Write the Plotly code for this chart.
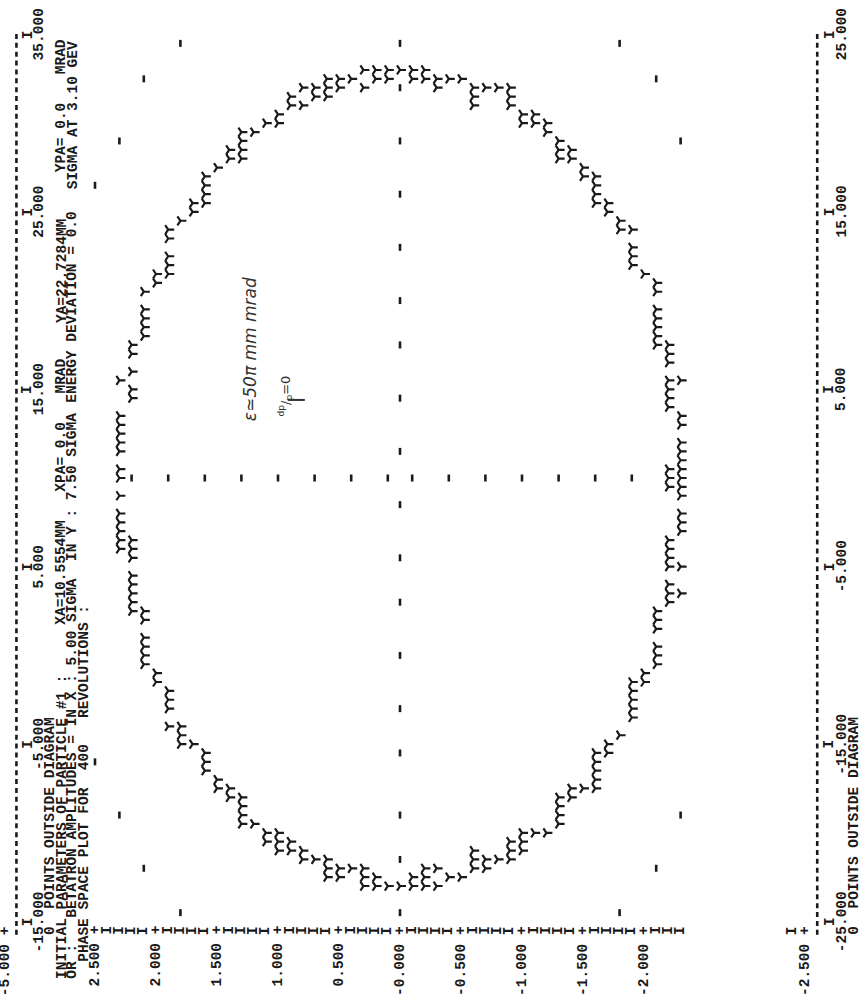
import plotly.graph_objects as go

# ---------------- data read from the print-out ----------------
# Print lines of the phase-space plot (YP, mrad) and, for each line, the Y positions (mm)
LINE_YP = [2.3, 2.2, 2.1, 2.0, 1.9, 1.8, 1.7, 1.6, 1.5, 1.4, 1.3, 1.2, 1.1, 1.0,
           0.9, 0.8, 0.7, 0.6, 0.5, 0.4, 0.3, 0.2, 0.1, 0.0,
           -0.1, -0.2, -0.3, -0.4, -0.5, -0.6, -0.7, -0.8, -0.9, -1.0,
           -1.1, -1.2, -1.3, -1.4, -1.5, -1.6, -1.7, -1.8, -1.9, -2.0,
           -2.1, -2.2, -2.3]
LINE_Y = [
    [-4.0, -3.5, -3.0, -2.5, -2.0, -1.0, 0.0, 0.5, 1.5, 2.0, 2.5, 3.0, 3.5, 5.5],
    [-7.5, -7.0, -6.5, -6.0, -5.5, -4.5, -4.0, -3.5, 4.5, 5.0, 6.0, 7.0, 7.5],
    [-10.5, -10.0, -9.5, -9.0, -8.0, -7.5, 8.0, 8.5, 9.0, 9.5, 10.5],
    [-11.5, -11.0, 11.0, 11.5],
    [-14.0, -13.0, -12.5, -12.0, 11.5, 12.0, 12.5, 13.5, 14.0],
    [-15.0, -14.5, -14.0, 14.5],
    [-15.0, 15.0, 15.5],
    [-16.5, -16.0, -15.5, 15.5, 16.0, 16.5, 17.0],
    [-17.5, -17.0, 17.5],
    [-18.0, -17.5, 18.0, 18.5],
    [-19.5, -19.0, -18.5, -18.0, 18.0, 18.5, 19.0, 19.5],
    [-19.5, 19.5],
    [-20.5, -20.0, 20.0],
    [-21.0, -20.5, -20.0, 20.0, 20.5],
    [-21.0, -20.5, 21.0, 21.5],
    [-21.5, -21.0, 21.0, 22.0],
    [-21.5, 21.5, 22.0],
    [-22.5, -22.0, -21.5, 21.5, 22.0, 22.5],
    [-22.5, -22.0, 22.0, 22.5],
    [-22.0, 22.5],
    [-23.0, -22.5, -22.0, 22.0, 23.0],
    [-23.0, -22.5, 22.5, 23.0],
    [-23.0, 22.5, 23.0],
    [-23.0, 23.0],
    [-23.0, -22.5, 22.5, 23.0],
    [-23.0, -22.5, -22.0, 22.5, 23.0],
    [-23.0, -22.0, 22.0, 22.5],
    [-22.5, 22.5],
    [-22.5, 22.5],
    [-22.0, -21.5, -21.0, 21.0, 21.5, 22.0],
    [-22.0, -21.5, 22.0],
    [-21.5, 22.0],
    [-21.5, -21.0, -20.5, 21.0, 21.5, 22.0],
    [-21.0, -20.5, -20.0, 20.0, 20.5],
    [-20.0, 20.0, 20.5],
    [-20.0, 19.5, 20.0],
    [-19.5, -19.0, -18.5, -18.0, 18.0, 18.5, 19.0],
    [-18.0, -17.5, 18.0, 18.5],
    [-17.5, 17.0, 17.5],
    [-17.5, -17.0, -16.5, -16.0, -15.5, 15.5, 16.0, 16.5, 17.0],
    [-15.5, -15.0, 15.0, 15.5],
    [-14.5, 14.0, 14.5],
    [-13.5, -13.0, -12.5, -12.0, -11.5, 12.0, 12.5, 13.0, 14.0],
    [-11.5, -11.0, 11.5],
    [-10.5, -10.0, -9.5, -8.5, -8.0, -7.5, 7.5, 8.0, 8.5, 9.0, 9.5, 10.5, 11.0],
    [-7.0, -6.5, -6.0, -5.0, -4.5, -4.0, -3.5, -0.5, 0.0, 0.5, 4.0, 4.5, 5.0, 5.5, 6.5, 7.0, 7.5],
    [-6.5, -5.0, -3.0, -2.5, -2.0, -1.0, -0.5, 0.0, 0.5, 1.0, 1.5, 2.0, 3.0, 3.5, 5.5],
]

# dotted axes inside the plot
AXIS_DOTS_ON_YP0 = [24.5, 22.0, 19.0, 16.0, 13.0, 10.0, 7.5, 4.5, 1.5,
                    -1.5, -4.5, -7.0, -10.0, -13.0, -15.5, -19.0, -21.5, -24.5]
AXIS_DOTS_ON_Y0 = [2.2, 1.9, 1.6, 1.3, 1.0, 0.7, 0.4, 0.1,
                   -0.1, -0.4, -0.7, -1.0, -1.3, -1.6, -1.9]
# scattered marks near the corners
CORNER_MARK_YP = [1.8, 2.1, 2.3, 2.5, 2.5, 2.3, 2.1, 1.8, -1.8, -2.1, -2.3, -1.8, -2.1, -2.3]
CORNER_MARK_Y = [24.5, 22.5, 19.0, 16.5, -16.0, -19.0, -22.0, -24.5, 24.5, 22.5, 19.0, -24.5, -22.0, -19.0]

# axis labels
YP_LABEL_VALUES = [2.5, 2.0, 1.5, 1.0, 0.5, 0.0, -0.5, -1.0, -1.5, -2.0, -2.5]
YP_LABELS = ["2.500", "2.000", "1.500", "1.000", "0.500", "-0.000",
             "-0.500", "-1.000", "-1.500", "-2.000", "-2.500"]
Y_TICKS = [-25, -15, -5, 5, 15, 25]
TOP_TICK_LABELS = ["-15.000", "-5.000", "5.000", "15.000", "25.000", "35.000"]
BOTTOM_TICK_LABELS = ["-25.000", "-15.000", "-5.000", "5.000", "15.000", "25.000"]

# header text: (print line, start column, text)
HEADER_SEGMENTS = [
    (4, 0, "0  POINTS OUTSIDE DIAGRAM"),
    (5, -5, "INITIAL PARAMETERS OF PARTICLE #1 :"),
    (5, 35, "XA=10.5554MM"),
    (5, 50, "XPA= 0.0"),
    (5, 61, "MRAD"),
    (5, 69, "YA=22.7284MM"),
    (5, 86, "YPA= 0.0"),
    (5, 97, "MRAD"),
    (6, -5, "OR :   BETATRON AMPLITUDES = IN X : 5.00 SIGMA  IN Y : 7.50 SIGMA"),
    (6, 60, "ENERGY DEVIATION = 0.0"),
    (6, 84, "SIGMA AT 3.10 GEV"),
    (7, -3, "PHASE SPACE PLOT FOR  400   REVOLUTIONS :"),
]
NOTE_EMITTANCE = "ε≃50π mm mrad"
NOTE_MOMENTUM = "<sup>dp</sup>/<sub>p</sub>=0"

# ---------------- page geometry (print-out layout) ----------------
INK = "#1a1a1a"
PAGE_SKIP = 0.82          # paper fold between the -2.3 and -2.4 print lines
HEADER_STEP = 0.092       # spacing of the header print lines
X_RANGE = [3.2787, -3.7623]   # YP direction across the page (rotated print-out)
Y_RANGE = [-29.425, 26.945]   # Y (mm) direction along the page


def line_pos(yp):
    return yp if yp > -2.35 else yp - PAGE_SKIP


def header_pos(n):          # n = 0 .. 7 from the page edge
    return 2.5 + HEADER_STEP * (8 - n)


def footer_pos(n):          # n = 1 .. 4 after the -2.500 line
    return line_pos(-2.5) - 0.1 * n


def col(k):                 # print column -> mm
    return -25.5 + 0.5 * k


FONT = dict(family="Liberation Mono", size=14.5, color=INK, weight="bold")


def text(x, y, s, where, font=FONT):
    ya = {"start": "bottom", "end": "top", "center": "middle"}[where]
    return dict(x=x, y=y, xref="x", yref="y", text=s.replace(" ", "\u00a0"),
                showarrow=False, textangle=-90, font=font,
                xanchor="center", yanchor=ya, borderpad=0, borderwidth=0)


fig = go.Figure()

# Y points of the phase-space ellipse
px, py = [], []
for yp, ys in zip(LINE_YP, LINE_Y):
    for y in ys:
        px.append(line_pos(yp))
        py.append(y)
fig.add_trace(go.Scatter(
    x=px, y=py, mode="markers", hoverinfo="skip",
    marker=dict(symbol="y-right", size=7.5, color=INK,
                line=dict(color=INK, width=2.2))))

# dotted axes and corner marks
dot_x = [0.0] * len(AXIS_DOTS_ON_YP0) + [line_pos(v) for v in AXIS_DOTS_ON_Y0] + \
        [line_pos(v) for v in CORNER_MARK_YP]
dot_y = AXIS_DOTS_ON_YP0 + [0.0] * len(AXIS_DOTS_ON_Y0) + CORNER_MARK_Y
fig.add_trace(go.Scatter(
    x=dot_x, y=dot_y, mode="markers", hoverinfo="skip",
    marker=dict(symbol="line-ns", size=5, color=INK, line=dict(color=INK, width=2.6))))

ann = []
# left axis column: labels with "+", "I" on the other lines
for v, lab in zip(YP_LABEL_VALUES, YP_LABELS):
    ann.append(text(line_pos(v), col(0) + 0.25, lab + " +", "end"))
for i in range(1, 50):
    v = round(2.5 - 0.1 * i, 1)
    if abs(v * 2 - round(v * 2)) < 1e-9:
        continue
    ann.append(text(line_pos(v), col(0), "I", "center"))

# previous plot's bottom line and scale (top of the page)
ann.append(text(header_pos(0), col(0) + 0.25, "-5.000 +", "end"))
for t, lab in zip(Y_TICKS, TOP_TICK_LABELS):
    ann.append(text(header_pos(2), t, "I", "center"))
    ann.append(text(header_pos(3), t, lab, "center"))
for line, k, s in HEADER_SEGMENTS:
    ann.append(text(header_pos(line), col(k) - 0.25, s, "start"))

# bottom scale of this plot
for t, lab in zip(Y_TICKS, BOTTOM_TICK_LABELS):
    ann.append(text(footer_pos(2), t, "I", "center"))
    ann.append(text(footer_pos(3), t, lab, "center"))
ann.append(text(footer_pos(4), col(0) - 0.25, "0  POINTS OUTSIDE DIAGRAM", "start"))

# handwritten notes
HAND = dict(family="DejaVu Sans", size=17, color="#333333", style="italic")
NOTE1_X, NOTE1_Y = 1.23, 3.2
NOTE2_X, NOTE2_Y = 0.94, 3.4
ann.append(text(NOTE1_X, NOTE1_Y, NOTE_EMITTANCE, "start", HAND))
ann.append(dict(x=NOTE2_X, y=NOTE2_Y, xref="x", yref="y", text=NOTE_MOMENTUM,
                showarrow=False, textangle=-90,
                font=dict(family="DejaVu Sans", size=13, color="#333333"),
                xanchor="center", yanchor="bottom", borderpad=0))

shapes = []
for xp in (header_pos(1), footer_pos(1)):
    shapes.append(dict(type="line", xref="x", yref="y", x0=xp, x1=xp,
                       y0=col(0) - 0.25, y1=col(101) + 0.25,
                       line=dict(color=INK, width=2.6, dash="5px,3.87px")))
shapes.append(dict(type="line", xref="x", yref="y", x0=NOTE2_X - 0.02, x1=NOTE2_X - 0.16,
                   y0=NOTE2_Y + 1.0, y1=NOTE2_Y + 1.0,
                   line=dict(color="#333333", width=2)))

fig.update_layout(
    width=859, height=1000, autosize=False,
    margin=dict(l=0, r=0, t=0, b=0),
    paper_bgcolor="white", plot_bgcolor="white",
    showlegend=False,
    xaxis=dict(range=X_RANGE, visible=False, showgrid=False, zeroline=False, fixedrange=True),
    yaxis=dict(range=Y_RANGE, visible=False, showgrid=False, zeroline=False, fixedrange=True),
    annotations=ann, shapes=shapes,
)

fig.write_html("out.html", config={"displayModeBar": False})
